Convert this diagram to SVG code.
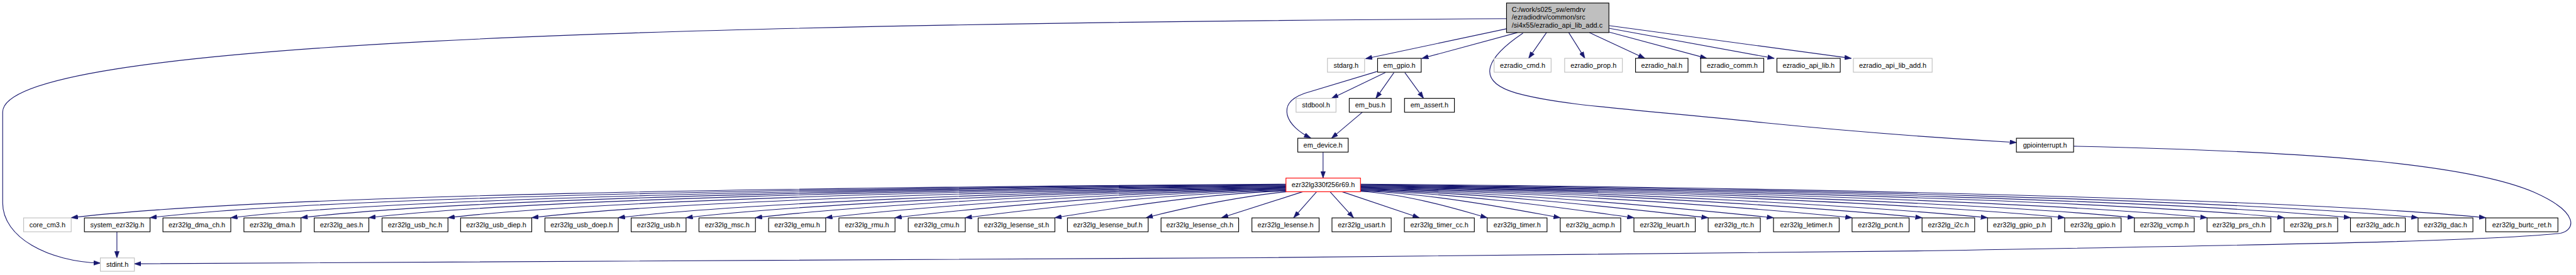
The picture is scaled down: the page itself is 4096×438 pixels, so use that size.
<svg xmlns="http://www.w3.org/2000/svg" width="4096" height="438" viewBox="0 0 4096 438">
<defs>
<style>
.n rect{fill:#fff;stroke:#000;stroke-width:1.33}
.g rect{stroke:#bfbfbf}
.r rect{stroke:#ff0000}
.rt rect{fill:#bfbfbf}
text{font-family:"Liberation Sans",Arial,Helvetica,sans-serif;font-size:12.9px;text-anchor:middle;fill:#000}
.rt text{text-anchor:start}
.e path{fill:none;stroke:#191970;stroke-width:1.33;marker-end:url(#a)}
</style>
<marker id="a" viewBox="0 0 13 9" refX="12.5" refY="4.5" markerWidth="13" markerHeight="9" markerUnits="userSpaceOnUse" orient="auto">
<path d="M0,0 L13,4.5 L0,9 z" fill="#191970" stroke="#191970" stroke-width="0.5"/>
</marker>
</defs>
<rect width="4096" height="438" fill="#fff"/>
<g transform="scale(0.85)">
<g class="e" id="edges">
<path d="M2818,35 C1200,45 5,80 5,210 L5,380 C5,445 90,490 187.7,493"/>
<path d="M2818,54 L2554.6,110"/>
<path d="M2838.5,61 L2659.8,109.5"/>
<path d="M2849,62 C2785,105 2755,150 2835,174 C2920,198 3050,204 3300,230 C3500,250 3650,260 3772,267"/>
<path d="M2893,61 L2859.6,109.3"/>
<path d="M2934.6,61 L2964.8,109.3"/>
<path d="M2973,61 L3077,109.3"/>
<path d="M3009.7,60 L3192.8,109.3"/>
<path d="M3009.7,53 L3319,109.3"/>
<path d="M3009.7,48 L3463,109.3"/>
<path d="M2576,134 L2440,175 C2410,186 2405,200 2408,215 C2412,232 2430,248 2452,258.5"/>
<path d="M2591.6,136 L2490.9,184.3"/>
<path d="M2607.6,136 L2573.8,184.3"/>
<path d="M2628,136 L2663,184.3"/>
<path d="M2548.3,210.5 L2490.9,259"/>
<path d="M2475,285 L2475,333.7"/>
<path d="M218.7,434.3 L218.7,483.3"/>
<path d="M3879,274 C4250,282 4600,300 4740,360 C4830,400 4815,432 4790,437 C4650,452 4300,458 3600,470 C2500,485 1000,492 251.4,494.3"/>
<path d="M2405.6,345 C1496.6,351.3 496.8,364.4 133.2,408"/>
<path d="M2405.6,346 C1555.6,352.2 620.7,367.2 280.7,408"/>
<path d="M2405.6,347 C1616,353.1 747.5,370.1 431.7,408"/>
<path d="M2405.6,348 C1668.6,354 857.9,372.6 563.1,408"/>
<path d="M2405.6,349 C1719.4,354.9 964.5,375.1 690,408"/>
<path d="M2405.6,350 C1778.6,355.8 1088.8,377.9 838,408"/>
<path d="M2405.6,351 C1841.2,356.7 1220.4,380.9 994.7,408"/>
<path d="M2405.6,352 C1906,357.6 1356.4,384 1156.6,408"/>
<path d="M2405.6,353 C1956.7,358.5 1463,386.5 1283.4,408"/>
<path d="M2405.6,354 C2008.6,359.4 1572,389 1413.2,408"/>
<path d="M2405.6,355 C2061.2,360.3 1682.4,391.5 1544.6,408"/>
<path d="M2405.6,356 C2113.1,361.2 1791.3,394 1674.3,408"/>
<path d="M2405.6,357 C2165.6,362.1 1901.7,396.5 1805.7,408"/>
<path d="M2405.6,358 C2232.7,363 2042.5,397.6 1973.3,408"/>
<path d="M2407,359.3 C2340,366 2230,385 2144,408"/>
<path d="M2437,359.3 L2285,408"/>
<path d="M2463,359.3 L2420,408"/>
<path d="M2488,359.3 L2532,408"/>
<path d="M2510.6,359.3 L2655,408"/>
<path d="M2545,358.5 C2639.8,363.9 2744,397.7 2782,408"/>
<path d="M2545,358 C2694.5,363 2858.9,397.6 2918.7,408"/>
<path d="M2545,357 C2749.6,362.1 2974.7,397.4 3056.5,408"/>
<path d="M2545,356 C2805.2,361.2 3091.4,397.2 3195.4,408"/>
<path d="M2545,355 C2854,360.3 3194,395.6 3317.6,408"/>
<path d="M2545,354 C2912.8,359.4 3317.5,393.3 3464.6,408"/>
<path d="M2545,353 C2965.2,358.5 3427.5,391.2 3595.5,408"/>
<path d="M2545,352 C3014.2,357.6 3530.3,389.2 3718,408"/>
<path d="M2545,351 C3071.9,356.7 3651.5,386.9 3862.3,408"/>
<path d="M2545,350 C3124.1,355.8 3761.1,384.8 3992.7,408"/>
<path d="M2545,349 C3178.4,354.9 3875.2,382.7 4128.6,408"/>
<path d="M2545,348 C3236.1,354 3996.4,380.4 4272.8,408"/>
<path d="M2545,347 C3285.8,353.1 4100.7,378.4 4397,408"/>
<path d="M2545,346 C3336.4,352.2 4206.9,376.3 4523.4,408"/>
<path d="M2545,345 C3387,351.3 4313.2,374.3 4650,408"/>
</g>
<g id="n_root" class="n rt"><rect x="2818.2" y="5.7" width="191.5" height="55.3"/><text x="2828" y="22.5">C:/work/s025_sw/emdrv</text><text x="2828" y="37">/ezradiodrv/common/src</text><text x="2828" y="51.5">/si4x55/ezradio_api_lib_add.c</text></g>
<g id="n_stdarg" class="n g"><rect x="2483.2" y="109.3" width="69.5" height="26"/><text x="2518" y="126.5">stdarg.h</text></g>
<g id="n_em_gpio" class="n"><rect x="2577" y="109.3" width="81.6" height="26"/><text x="2617.8" y="126.5">em_gpio.h</text></g>
<g id="n_ezradio_cmd" class="n g"><rect x="2795" y="109.3" width="106.6" height="26"/><text x="2848.3" y="126.5">ezradio_cmd.h</text></g>
<g id="n_ezradio_prop" class="n g"><rect x="2926.9" y="109.3" width="108" height="26"/><text x="2980.9" y="126.5">ezradio_prop.h</text></g>
<g id="n_ezradio_hal" class="n"><rect x="3059.5" y="109.3" width="98.2" height="26"/><text x="3108.6" y="126.5">ezradio_hal.h</text></g>
<g id="n_ezradio_comm" class="n"><rect x="3181.5" y="109.3" width="117.9" height="26"/><text x="3240.5" y="126.5">ezradio_comm.h</text></g>
<g id="n_ezradio_api_lib" class="n"><rect x="3324" y="109.3" width="118.5" height="26"/><text x="3383.3" y="126.5">ezradio_api_lib.h</text></g>
<g id="n_ezradio_api_lib_add" class="n g"><rect x="3467" y="109.3" width="147.4" height="26"/><text x="3540.7" y="126.5">ezradio_api_lib_add.h</text></g>
<g id="n_stdbool" class="n g"><rect x="2424.5" y="184.3" width="74.7" height="26"/><text x="2461.9" y="201.5">stdbool.h</text></g>
<g id="n_em_bus" class="n"><rect x="2524" y="184.3" width="78.5" height="26"/><text x="2563.3" y="201.5">em_bus.h</text></g>
<g id="n_em_assert" class="n"><rect x="2627.4" y="184.3" width="93.3" height="26"/><text x="2674" y="201.5">em_assert.h</text></g>
<g id="n_em_device" class="n"><rect x="2427.7" y="259" width="94.3" height="26"/><text x="2474.9" y="276.2">em_device.h</text></g>
<g id="n_gpiointerrupt" class="n"><rect x="3772" y="259" width="107" height="26"/><text x="3825.5" y="276.2">gpiointerrupt.h</text></g>
<g id="n_ezr32lg330f256r69" class="n r"><rect x="2405.6" y="333.7" width="139.4" height="25.6"/><text x="2475.3" y="350.8">ezr32lg330f256r69.h</text></g>
<g id="n_core_cm3" class="n g"><rect x="44.2" y="408.3" width="89" height="26"/><text x="88.7" y="425.5">core_cm3.h</text></g>
<g id="n_system_ezr32lg" class="n"><rect x="157.9" y="408.3" width="122.8" height="26"/><text x="219.3" y="425.5">system_ezr32lg.h</text></g>
<g id="n_dma_ch" class="n"><rect x="304.8" y="408.3" width="126.9" height="26"/><text x="368.3" y="425.5">ezr32lg_dma_ch.h</text></g>
<g id="n_dma" class="n"><rect x="456.3" y="408.3" width="106.8" height="26"/><text x="509.7" y="425.5">ezr32lg_dma.h</text></g>
<g id="n_aes" class="n"><rect x="587.8" y="408.3" width="102.2" height="26"/><text x="638.9" y="425.5">ezr32lg_aes.h</text></g>
<g id="n_usb_hc" class="n"><rect x="714.7" y="408.3" width="123.3" height="26"/><text x="776.4" y="425.5">ezr32lg_usb_hc.h</text></g>
<g id="n_usb_diep" class="n"><rect x="861.6" y="408.3" width="133.1" height="26"/><text x="928.2" y="425.5">ezr32lg_usb_diep.h</text></g>
<g id="n_usb_doep" class="n"><rect x="1019.4" y="408.3" width="137.2" height="26"/><text x="1088" y="425.5">ezr32lg_usb_doep.h</text></g>
<g id="n_usb" class="n"><rect x="1180.7" y="408.3" width="102.7" height="26"/><text x="1232.1" y="425.5">ezr32lg_usb.h</text></g>
<g id="n_msc" class="n"><rect x="1307.5" y="408.3" width="105.7" height="26"/><text x="1360.4" y="425.5">ezr32lg_msc.h</text></g>
<g id="n_emu" class="n"><rect x="1437.8" y="408.3" width="106.8" height="26"/><text x="1491.2" y="425.5">ezr32lg_emu.h</text></g>
<g id="n_rmu" class="n"><rect x="1569.3" y="408.3" width="105" height="26"/><text x="1621.8" y="425.5">ezr32lg_rmu.h</text></g>
<g id="n_cmu" class="n"><rect x="1699" y="408.3" width="106.7" height="26"/><text x="1752.4" y="425.5">ezr32lg_cmu.h</text></g>
<g id="n_lesense_st" class="n"><rect x="1829.8" y="408.3" width="143.5" height="26"/><text x="1901.6" y="425.5">ezr32lg_lesense_st.h</text></g>
<g id="n_lesense_buf" class="n"><rect x="1996.9" y="408.3" width="150.9" height="26"/><text x="2072.4" y="425.5">ezr32lg_lesense_buf.h</text></g>
<g id="n_lesense_ch" class="n"><rect x="2171.9" y="408.3" width="145.2" height="26"/><text x="2244.5" y="425.5">ezr32lg_lesense_ch.h</text></g>
<g id="n_lesense" class="n"><rect x="2341.9" y="408.3" width="125.7" height="26"/><text x="2404.8" y="425.5">ezr32lg_lesense.h</text></g>
<g id="n_usart" class="n"><rect x="2491.7" y="408.3" width="110.8" height="26"/><text x="2547.1" y="425.5">ezr32lg_usart.h</text></g>
<g id="n_timer_cc" class="n"><rect x="2627.1" y="408.3" width="130.9" height="26"/><text x="2692.6" y="425.5">ezr32lg_timer_cc.h</text></g>
<g id="n_timer" class="n"><rect x="2782" y="408.3" width="112" height="26"/><text x="2838" y="425.5">ezr32lg_timer.h</text></g>
<g id="n_acmp" class="n"><rect x="2918.7" y="408.3" width="113.1" height="26"/><text x="2975.3" y="425.5">ezr32lg_acmp.h</text></g>
<g id="n_leuart" class="n"><rect x="3056.5" y="408.3" width="114.8" height="26"/><text x="3113.9" y="425.5">ezr32lg_leuart.h</text></g>
<g id="n_rtc" class="n"><rect x="3195.4" y="408.3" width="97.6" height="26"/><text x="3244.2" y="425.5">ezr32lg_rtc.h</text></g>
<g id="n_letimer" class="n"><rect x="3317.6" y="408.3" width="122.9" height="26"/><text x="3379.1" y="425.5">ezr32lg_letimer.h</text></g>
<g id="n_pcnt" class="n"><rect x="3464.6" y="408.3" width="106.7" height="26"/><text x="3518" y="425.5">ezr32lg_pcnt.h</text></g>
<g id="n_i2c" class="n"><rect x="3595.5" y="408.3" width="98.4" height="26"/><text x="3644.7" y="425.5">ezr32lg_i2c.h</text></g>
<g id="n_gpio_p" class="n"><rect x="3718" y="408.3" width="119.5" height="26"/><text x="3777.8" y="425.5">ezr32lg_gpio_p.h</text></g>
<g id="n_gpio" class="n"><rect x="3862.3" y="408.3" width="105.6" height="26"/><text x="3915.1" y="425.5">ezr32lg_gpio.h</text></g>
<g id="n_vcmp" class="n"><rect x="3992.7" y="408.3" width="112" height="26"/><text x="4048.7" y="425.5">ezr32lg_vcmp.h</text></g>
<g id="n_prs_ch" class="n"><rect x="4128.6" y="408.3" width="119.4" height="26"/><text x="4188.3" y="425.5">ezr32lg_prs_ch.h</text></g>
<g id="n_prs" class="n"><rect x="4272.8" y="408.3" width="100.2" height="26"/><text x="4322.9" y="425.5">ezr32lg_prs.h</text></g>
<g id="n_adc" class="n"><rect x="4397" y="408.3" width="102.5" height="26"/><text x="4448.3" y="425.5">ezr32lg_adc.h</text></g>
<g id="n_dac" class="n"><rect x="4523.4" y="408.3" width="102.6" height="26"/><text x="4574.7" y="425.5">ezr32lg_dac.h</text></g>
<g id="n_burtc_ret" class="n"><rect x="4650" y="408.3" width="135" height="26"/><text x="4717.5" y="425.5">ezr32lg_burtc_ret.h</text></g>
<g id="n_stdint" class="n g"><rect x="187.7" y="483.3" width="63.7" height="25"/><text x="219.6" y="500">stdint.h</text></g>
</g>
</svg>
